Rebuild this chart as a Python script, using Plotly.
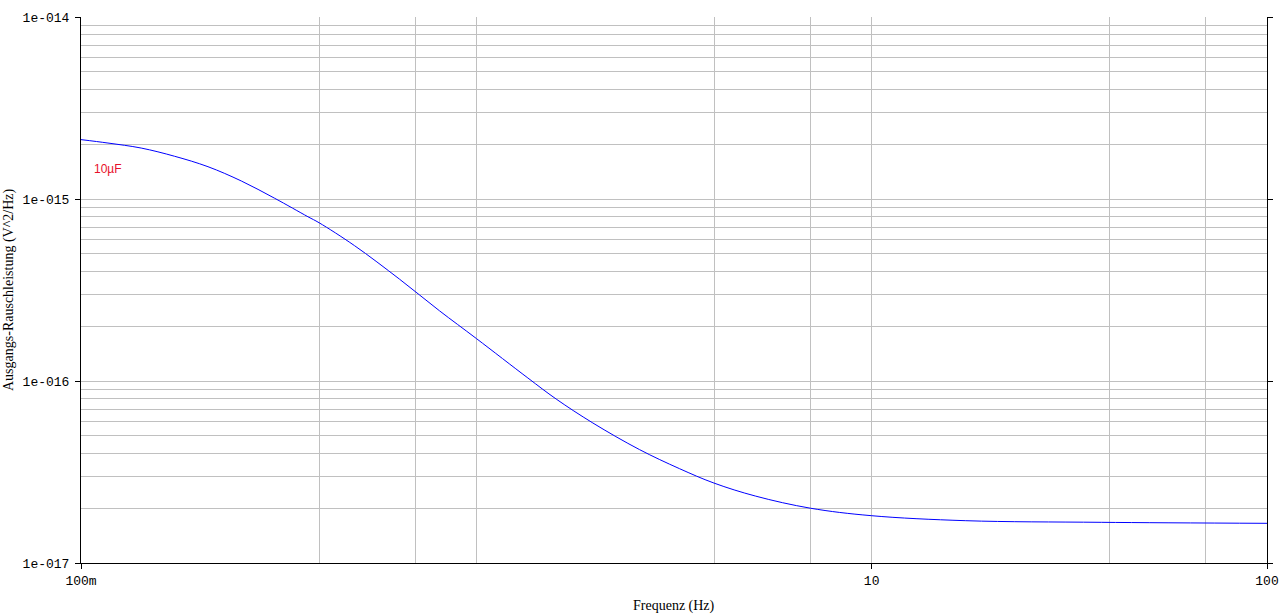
import plotly.graph_objects as go

# --- data ---
freq_hz = [0.1, 0.117, 0.142, 0.1725, 0.2095, 0.2544, 0.309, 0.375, 0.4, 0.492,
           0.639, 0.807, 1.0, 1.35, 1.592, 1.971, 2.586, 3.264, 3.99,
           5.09, 7.0, 9.97, 17.3, 38.1, 100.0]
noise_psd = [2.12e-15, 2.03e-15, 1.905e-15, 1.717e-15, 1.505e-15, 1.256e-15,
             1.009e-15, 7.99e-16, 7.41e-16, 5.54e-16, 3.63e-16, 2.43e-16,
             1.712e-16, 1.039e-16, 7.96e-17, 5.88e-17, 4.2e-17, 3.3e-17,
             2.75e-17, 2.33e-17, 2.0e-17, 1.82e-17, 1.708e-17,
             1.673e-17, 1.652e-17]
series_name = "10µF"

x_tickvals = [0.1, 10, 100]
x_ticktext = ["100m", "10", "100"]
x_minor_grid = [0.4, 0.7, 1, 4, 7, 40, 70]

y_tickvals = [1e-17, 1e-16, 1e-15, 1e-14]
y_ticktext = ["1e-017", "1e-016", "1e-015", "1e-014"]
y_minor_grid = [m * 10.0 ** e for e in (-17, -16, -15) for m in range(2, 10)]

x_title = "Frequenz (Hz)"
y_title = "Ausgangs-Rauschleistung (V^2/Hz)"

GRID = "#c0c0c0"
TICKFONT = dict(family="Liberation Mono, Courier New, monospace", size=13, color="#000000")
TITLEFONT = dict(family="Liberation Serif, Times New Roman, serif", size=14, color="#000000")

fig = go.Figure()
fig.add_trace(go.Scatter(
    x=freq_hz, y=noise_psd, mode="lines", name=series_name,
    line=dict(color="#0000ff", width=1, shape="spline", smoothing=1.0),
    showlegend=False, hoverinfo="skip",
))

PLOT_W = 1186
fig.update_layout(
    width=1284, height=615,
    margin=dict(l=81, r=17, t=17, b=52),
    paper_bgcolor="white", plot_bgcolor="white",
    hovermode=False,
    xaxis=dict(
        type="log", range=[-1, 2], automargin=False,
        tickmode="array", tickvals=x_tickvals, ticktext=x_ticktext,
        tickfont=TICKFONT, ticks="outside", ticklen=5, tickcolor="black", tickwidth=1,
        showline=True, linecolor="black", linewidth=1,
        showgrid=True, gridcolor=GRID, gridwidth=1, zeroline=False,
        minor=dict(tickmode="array", tickvals=x_minor_grid, showgrid=True,
                   gridcolor=GRID, gridwidth=1, ticks=""),
    ),
    yaxis=dict(
        type="log", range=[-17, -14], automargin=False,
        tickmode="array", tickvals=y_tickvals, ticktext=y_ticktext,
        tickfont=TICKFONT, ticks="outside", ticklen=5, tickcolor="black", tickwidth=1,
        ticklabelstandoff=3,
        showline=True, linecolor="black", linewidth=1, mirror="ticks",
        showgrid=True, gridcolor=GRID, gridwidth=1, zeroline=False,
        minor=dict(tickmode="array", tickvals=y_minor_grid, showgrid=True,
                   gridcolor=GRID, gridwidth=1, ticks=""),
    ),
    annotations=[
        dict(text=x_title, xref="paper", yref="paper", x=0.5, y=0,
             xanchor="center", yanchor="middle", yshift=-43, showarrow=False,
             font=TITLEFONT),
        dict(text=y_title, xref="paper", yref="paper", x=0, y=0.5,
             xanchor="center", yanchor="middle", xshift=-72, textangle=-90,
             showarrow=False, font=TITLEFONT),
        dict(text=series_name, xref="x", yref="y", x=-0.932, y=-14.835,
             xanchor="center", yanchor="middle", showarrow=False,
             font=dict(family="Liberation Sans, Arial, sans-serif", size=12, color="#e8102a")),
    ],
    shapes=[
        dict(type="rect", xref="paper", yref="paper", x0=(605 - 81) / PLOT_W, x1=(630 - 81) / PLOT_W,
             y0=0.995, y1=1.01, fillcolor="white", line=dict(width=0), layer="above"),
        dict(type="rect", xref="paper", yref="paper", x0=(667 - 81) / PLOT_W, x1=(682 - 81) / PLOT_W,
             y0=0.995, y1=1.01, fillcolor="white", line=dict(width=0), layer="above"),
    ],
)

# remove the browser's default 8px body margin so the figure sits at the page origin
fig.write_html("out.html", config={"displayModeBar": False},
               post_script="document.body.style.margin='0';")
